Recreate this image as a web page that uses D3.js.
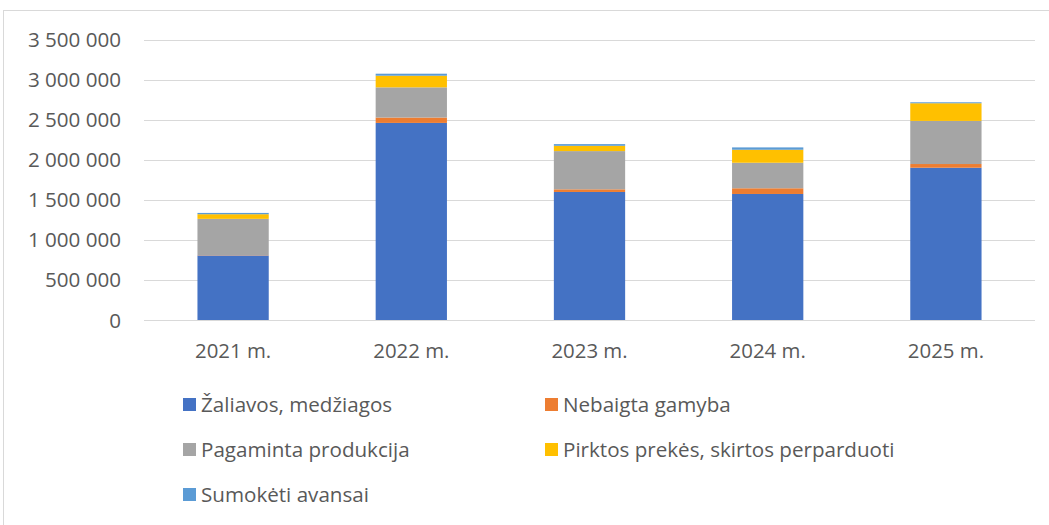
<!DOCTYPE html>
<html><head><meta charset="utf-8">
<script src="https://cdn.jsdelivr.net/npm/d3@7"></script>
<style>
html,body{margin:0;padding:0;background:#fff;}
text{font-family:"Open Sans",sans-serif;fill:#595959;}
</style></head>
<body>
<svg id="chart" width="1049" height="525"></svg>
<script>
const categories = ["2021 m.", "2022 m.", "2023 m.", "2024 m.", "2025 m."];
const seriesNames = ["Žaliavos, medžiagos", "Nebaigta gamyba", "Pagaminta produkcija", "Pirktos prekės, skirtos perparduoti", "Sumokėti avansai"];
const zaliavos   = [810000, 2461000, 1601000, 1576000, 1903000];
const nebaigta   = [4000, 67000, 33000, 71000, 46000];
const pagaminta  = [452000, 376000, 476000, 318000, 537000];
const pirktos    = [58000, 145000, 66000, 162000, 220000];
const avansai    = [16000, 25000, 21000, 29000, 12000];
const yTicks = [0, 500000, 1000000, 1500000, 2000000, 2500000, 3000000, 3500000];
const colors = ["#4472C4", "#ED7D31", "#A5A5A5", "#FFC000", "#5B9BD5"];

const seriesValues = [zaliavos, nebaigta, pagaminta, pirktos, avansai];
const keys = ["s0","s1","s2","s3","s4"];
const rows = categories.map((c, i) => {
  const r = {cat: c};
  keys.forEach((k, j) => r[k] = seriesValues[j][i]);
  return r;
});

const svg = d3.select("#chart");
// outer frame
svg.append("rect").attr("x", 3.5).attr("y", 10.5).attr("width", 1100).attr("height", 600)
  .attr("fill", "none").attr("stroke", "#d9d9d9").attr("stroke-width", 1);

const x = d3.scaleBand().domain(categories).range([144, 1035]).paddingInner(0.6).paddingOuter(0.3);
const y = d3.scaleLinear().domain([0, 3500000]).range([320.5, 39.5]);

const fmt = v => d3.format(",")(v).replace(/,/g, " ");

// gridlines
svg.append("g").selectAll("line").data(yTicks.filter(t => t > 0)).join("line")
  .attr("x1", 144).attr("x2", 1035)
  .attr("y1", d => Math.round(y(d)) + 0.5).attr("y2", d => Math.round(y(d)) + 0.5)
  .attr("stroke", "#d9d9d9").attr("stroke-width", 1);

// y labels
const yAxis = d3.axisLeft(y).tickValues(yTicks).tickFormat(fmt).tickSize(0).tickPadding(0);
const ya = svg.append("g").attr("transform", "translate(121,0)").call(yAxis);
ya.select(".domain").remove();
ya.selectAll("text").attr("font-size", 20.6).attr("fill", "#595959").attr("font-family", "Open Sans");

// bars
const stack = d3.stack().keys(keys)(rows);
svg.append("g").selectAll("g").data(stack).join("g")
  .attr("fill", (d, i) => colors[i])
  .selectAll("rect").data(d => d).join("rect")
  .attr("x", d => x(d.data.cat))
  .attr("width", x.bandwidth())
  .attr("y", d => y(d[1]))
  .attr("height", d => Math.max(0, y(d[0]) - y(d[1])));

// x axis
const xAxis = d3.axisBottom(x).tickSize(0).tickPadding(0);
const xa = svg.append("g").attr("transform", "translate(0,320.5)").call(xAxis);
xa.select(".domain").attr("d", "M144,0H1035").attr("stroke", "#d9d9d9");
xa.selectAll("text").attr("font-size", 20.4).attr("fill", "#595959").attr("font-family", "Open Sans")
  .attr("dy", null).attr("y", 37);

// legend
const legPos = [[183, 398], [545, 398], [183, 443], [545, 443], [183, 488]];
const leg = svg.append("g").selectAll("g").data(seriesNames).join("g")
  .attr("transform", (d, i) => `translate(${legPos[i][0]},${legPos[i][1]})`);
leg.append("rect").attr("width", 13).attr("height", 13).attr("fill", (d, i) => colors[i]);
leg.append("text").attr("x", 18).attr("y", 14).attr("font-size", 20.6).text(d => d);
</script>
</body></html>
